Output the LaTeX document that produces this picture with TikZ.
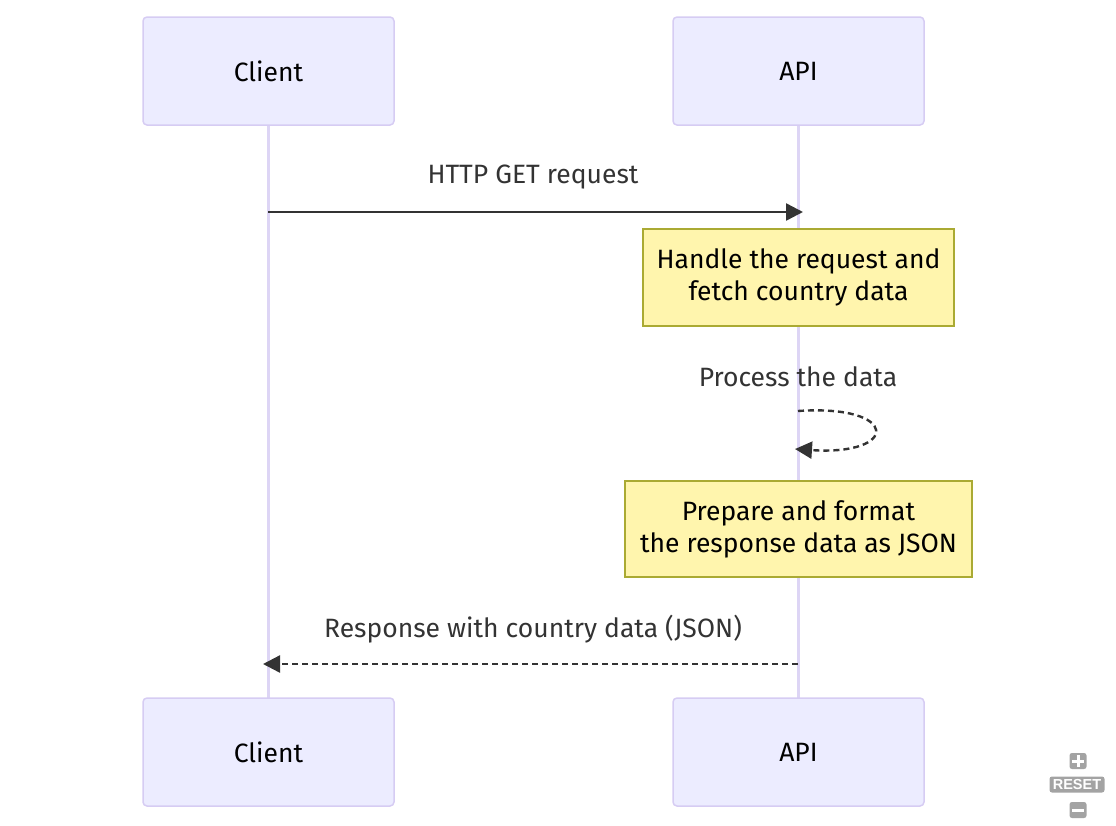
\documentclass[tikz,border=0pt]{standalone}
\usepackage{fontspec}
\setmainfont{Fira Sans}
\newfontfamily\ctrlfont{Liberation Sans}
\usetikzlibrary{arrows.meta}
\definecolor{actfill}{HTML}{ECECFF}
\definecolor{actdraw}{HTML}{D6CCF3}
\definecolor{lifeline}{HTML}{DDD5F5}
\definecolor{notefill}{HTML}{FFF5AD}
\definecolor{notedraw}{HTML}{AAAA33}
\definecolor{msg}{HTML}{333333}
\definecolor{ctrl}{HTML}{A3A3A3}
\tikzset{
  actor/.style={draw=actdraw, fill=actfill, line width=1.5pt, rounded corners=4pt, minimum width=251pt, minimum height=108pt, inner sep=0pt, font=\fontsize{26.5}{30}\selectfont, text=black},
  notebox/.style={draw=notedraw, fill=notefill, line width=1.5pt, inner sep=0pt, align=center, font=\fontsize{26.5}{32}\selectfont, text=black},
  life/.style={draw=lifeline, line width=3pt},
  msgline/.style={draw=msg, line width=2.4pt, -{Triangle[length=17pt,width=17pt]}},
  dashmsg/.style={msgline, dash pattern=on 6pt off 4pt},
  msglabel/.style={font=\fontsize{26.5}{30}\selectfont, text=msg},
  ctrlbox/.style={fill=ctrl, rounded corners=2.5pt, inner sep=0pt}
}
\begin{document}
\begin{tikzpicture}[x=1pt,y=-1pt]
\useasboundingbox (0,0) rectangle (1116,825);
% lifelines
\coordinate (cl1) at (268,125);
\coordinate (cl2) at (268,698);
\coordinate (al1) at (798,125);
\coordinate (al2) at (798,698);
\draw[life] (cl1) -- (cl2);
\draw[life] (al1) -- (al2);
% actors
\node[actor] (ctop) at (268.5,71) {Client};
\node[actor] (atop) at (798.5,71) {API};
\node[actor] (cbot) at (268.5,752) {Client};
\node[actor] (abot) at (798.5,752) {API};
% message 1
\node[msglabel] (m1) at (533,177) {HTTP GET request};
\coordinate (m1s) at (268,212);
\coordinate (m1e) at (803,212);
\draw[msgline] (m1s) -- (m1e);
% note 1
\node[notebox, minimum width=311pt, minimum height=97pt] (n1) at (798.5,277.5) {Handle the request and\\fetch country data};
% self message
\node[msglabel] (m2) at (798,377) {Process the data};
\coordinate (s1) at (798,411);
\coordinate (s2) at (795,449);
\draw[dashmsg] (s1) .. controls (900,404) and (900,456) .. (s2);
% note 2
\node[notebox, minimum width=347pt, minimum height=96pt] (n2) at (798.5,529) {Prepare and format\\the response data as JSON};
% message 3
\node[msglabel] (m3) at (533,629) {Response with country data (JSON)};
\coordinate (m3s) at (798,664);
\coordinate (m3e) at (263,664);
\draw[dashmsg] (m3s) -- (m3e);
% controls
\node[ctrlbox, minimum width=17pt, minimum height=16pt] (plus) at (1078,761) {};
\draw[white, line width=3pt] (1072,761) -- (1084,761) (1078,755) -- (1078,767);
\node[ctrlbox, minimum width=55pt, minimum height=16pt, text=white, font=\ctrlfont\bfseries\fontsize{14.5}{14.5}\selectfont] (reset) at (1077,784.5) {RESET};
\node[ctrlbox, minimum width=17pt, minimum height=16pt] (minus) at (1078,810) {};
\draw[white, line width=3pt] (1072,810) -- (1084,810);
\end{tikzpicture}
\end{document}
